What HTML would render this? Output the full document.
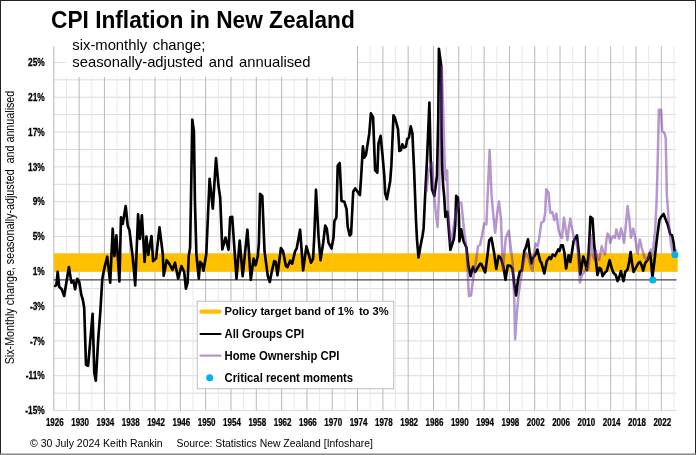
<!DOCTYPE html>
<html><head><meta charset="utf-8"><title>CPI Inflation in New Zealand</title>
<style>
html,body{margin:0;padding:0;background:#fff;}
body{width:696px;height:455px;position:relative;overflow:hidden;font-family:"Liberation Sans",sans-serif;color:#000;}
svg text{white-space:pre;}
</style></head><body>

<svg width="696" height="455" viewBox="0 0 696 455" style="position:absolute;left:0;top:0;will-change:transform" font-family="'Liberation Sans', sans-serif" fill="#000">
<rect x="0" y="0" width="696" height="455" fill="#fff"/>
<line x1="53.5" x2="676.5" y1="410.54" y2="410.54" stroke="#dbdbdb" stroke-width="1"/>
<line x1="53.5" x2="676.5" y1="393.14" y2="393.14" stroke="#dbdbdb" stroke-width="1"/>
<line x1="53.5" x2="676.5" y1="375.73" y2="375.73" stroke="#dbdbdb" stroke-width="1"/>
<line x1="53.5" x2="676.5" y1="358.33" y2="358.33" stroke="#dbdbdb" stroke-width="1"/>
<line x1="53.5" x2="676.5" y1="340.92" y2="340.92" stroke="#dbdbdb" stroke-width="1"/>
<line x1="53.5" x2="676.5" y1="323.51" y2="323.51" stroke="#dbdbdb" stroke-width="1"/>
<line x1="53.5" x2="676.5" y1="306.11" y2="306.11" stroke="#dbdbdb" stroke-width="1"/>
<line x1="53.5" x2="676.5" y1="288.70" y2="288.70" stroke="#dbdbdb" stroke-width="1"/>
<line x1="53.5" x2="676.5" y1="271.30" y2="271.30" stroke="#dbdbdb" stroke-width="1"/>
<line x1="53.5" x2="676.5" y1="253.89" y2="253.89" stroke="#dbdbdb" stroke-width="1"/>
<line x1="53.5" x2="676.5" y1="236.49" y2="236.49" stroke="#dbdbdb" stroke-width="1"/>
<line x1="53.5" x2="676.5" y1="219.08" y2="219.08" stroke="#dbdbdb" stroke-width="1"/>
<line x1="53.5" x2="676.5" y1="201.67" y2="201.67" stroke="#dbdbdb" stroke-width="1"/>
<line x1="53.5" x2="676.5" y1="184.27" y2="184.27" stroke="#dbdbdb" stroke-width="1"/>
<line x1="53.5" x2="676.5" y1="166.86" y2="166.86" stroke="#dbdbdb" stroke-width="1"/>
<line x1="53.5" x2="676.5" y1="149.46" y2="149.46" stroke="#dbdbdb" stroke-width="1"/>
<line x1="53.5" x2="676.5" y1="132.05" y2="132.05" stroke="#dbdbdb" stroke-width="1"/>
<line x1="53.5" x2="676.5" y1="114.64" y2="114.64" stroke="#dbdbdb" stroke-width="1"/>
<line x1="53.5" x2="676.5" y1="97.24" y2="97.24" stroke="#dbdbdb" stroke-width="1"/>
<line x1="53.5" x2="676.5" y1="79.83" y2="79.83" stroke="#dbdbdb" stroke-width="1"/>
<line x1="53.5" x2="676.5" y1="62.43" y2="62.43" stroke="#dbdbdb" stroke-width="1"/>
<line x1="53.80" x2="53.80" y1="46" y2="410.5" stroke="#b8b8b8" stroke-width="1"/>
<line x1="66.46" x2="66.46" y1="46" y2="410.5" stroke="#e9e9e9" stroke-width="1"/>
<line x1="79.11" x2="79.11" y1="46" y2="410.5" stroke="#b8b8b8" stroke-width="1"/>
<line x1="91.77" x2="91.77" y1="46" y2="410.5" stroke="#e9e9e9" stroke-width="1"/>
<line x1="104.42" x2="104.42" y1="46" y2="410.5" stroke="#b8b8b8" stroke-width="1"/>
<line x1="117.08" x2="117.08" y1="46" y2="410.5" stroke="#e9e9e9" stroke-width="1"/>
<line x1="129.74" x2="129.74" y1="46" y2="410.5" stroke="#b8b8b8" stroke-width="1"/>
<line x1="142.39" x2="142.39" y1="46" y2="410.5" stroke="#e9e9e9" stroke-width="1"/>
<line x1="155.05" x2="155.05" y1="46" y2="410.5" stroke="#b8b8b8" stroke-width="1"/>
<line x1="167.70" x2="167.70" y1="46" y2="410.5" stroke="#e9e9e9" stroke-width="1"/>
<line x1="180.36" x2="180.36" y1="46" y2="410.5" stroke="#b8b8b8" stroke-width="1"/>
<line x1="193.02" x2="193.02" y1="46" y2="410.5" stroke="#e9e9e9" stroke-width="1"/>
<line x1="205.67" x2="205.67" y1="46" y2="410.5" stroke="#b8b8b8" stroke-width="1"/>
<line x1="218.33" x2="218.33" y1="46" y2="410.5" stroke="#e9e9e9" stroke-width="1"/>
<line x1="230.98" x2="230.98" y1="46" y2="410.5" stroke="#b8b8b8" stroke-width="1"/>
<line x1="243.64" x2="243.64" y1="46" y2="410.5" stroke="#e9e9e9" stroke-width="1"/>
<line x1="256.30" x2="256.30" y1="46" y2="410.5" stroke="#b8b8b8" stroke-width="1"/>
<line x1="268.95" x2="268.95" y1="46" y2="410.5" stroke="#e9e9e9" stroke-width="1"/>
<line x1="281.61" x2="281.61" y1="46" y2="410.5" stroke="#b8b8b8" stroke-width="1"/>
<line x1="294.26" x2="294.26" y1="46" y2="410.5" stroke="#e9e9e9" stroke-width="1"/>
<line x1="306.92" x2="306.92" y1="46" y2="410.5" stroke="#b8b8b8" stroke-width="1"/>
<line x1="319.58" x2="319.58" y1="46" y2="410.5" stroke="#e9e9e9" stroke-width="1"/>
<line x1="332.23" x2="332.23" y1="46" y2="410.5" stroke="#b8b8b8" stroke-width="1"/>
<line x1="344.89" x2="344.89" y1="46" y2="410.5" stroke="#e9e9e9" stroke-width="1"/>
<line x1="357.54" x2="357.54" y1="46" y2="410.5" stroke="#b8b8b8" stroke-width="1"/>
<line x1="370.20" x2="370.20" y1="46" y2="410.5" stroke="#e9e9e9" stroke-width="1"/>
<line x1="382.86" x2="382.86" y1="46" y2="410.5" stroke="#b8b8b8" stroke-width="1"/>
<line x1="395.51" x2="395.51" y1="46" y2="410.5" stroke="#e9e9e9" stroke-width="1"/>
<line x1="408.17" x2="408.17" y1="46" y2="410.5" stroke="#b8b8b8" stroke-width="1"/>
<line x1="420.82" x2="420.82" y1="46" y2="410.5" stroke="#e9e9e9" stroke-width="1"/>
<line x1="433.48" x2="433.48" y1="46" y2="410.5" stroke="#b8b8b8" stroke-width="1"/>
<line x1="446.14" x2="446.14" y1="46" y2="410.5" stroke="#e9e9e9" stroke-width="1"/>
<line x1="458.79" x2="458.79" y1="46" y2="410.5" stroke="#b8b8b8" stroke-width="1"/>
<line x1="471.45" x2="471.45" y1="46" y2="410.5" stroke="#e9e9e9" stroke-width="1"/>
<line x1="484.10" x2="484.10" y1="46" y2="410.5" stroke="#b8b8b8" stroke-width="1"/>
<line x1="496.76" x2="496.76" y1="46" y2="410.5" stroke="#e9e9e9" stroke-width="1"/>
<line x1="509.42" x2="509.42" y1="46" y2="410.5" stroke="#b8b8b8" stroke-width="1"/>
<line x1="522.07" x2="522.07" y1="46" y2="410.5" stroke="#e9e9e9" stroke-width="1"/>
<line x1="534.73" x2="534.73" y1="46" y2="410.5" stroke="#b8b8b8" stroke-width="1"/>
<line x1="547.38" x2="547.38" y1="46" y2="410.5" stroke="#e9e9e9" stroke-width="1"/>
<line x1="560.04" x2="560.04" y1="46" y2="410.5" stroke="#b8b8b8" stroke-width="1"/>
<line x1="572.70" x2="572.70" y1="46" y2="410.5" stroke="#e9e9e9" stroke-width="1"/>
<line x1="585.35" x2="585.35" y1="46" y2="410.5" stroke="#b8b8b8" stroke-width="1"/>
<line x1="598.01" x2="598.01" y1="46" y2="410.5" stroke="#e9e9e9" stroke-width="1"/>
<line x1="610.66" x2="610.66" y1="46" y2="410.5" stroke="#b8b8b8" stroke-width="1"/>
<line x1="623.32" x2="623.32" y1="46" y2="410.5" stroke="#e9e9e9" stroke-width="1"/>
<line x1="635.98" x2="635.98" y1="46" y2="410.5" stroke="#b8b8b8" stroke-width="1"/>
<line x1="648.63" x2="648.63" y1="46" y2="410.5" stroke="#e9e9e9" stroke-width="1"/>
<line x1="661.29" x2="661.29" y1="46" y2="410.5" stroke="#b8b8b8" stroke-width="1"/>
<line x1="673.94" x2="673.94" y1="46" y2="410.5" stroke="#e9e9e9" stroke-width="1"/>
<rect x="65.5" y="36" width="291.5" height="41" fill="#fff"/>
<rect x="53.9" y="253.4" width="623.8" height="18.4" fill="#FFC000"/>
<line x1="53.5" x2="676.5" y1="279.90" y2="279.90" stroke="#444" stroke-width="1.3"/>
<path d="M55.2,285.9 L56.4,284.8 L57.7,271.7 L59.2,286.8 L61.7,289.3 L64.2,296.0 L68.9,267.0 L71.4,282.6 L73.4,280.9 L75.1,289.3 L77.2,278.8 L79.2,281.8 L81.4,295.1 L82.9,300.0 L84.2,308.0 L86.0,364.8 L88.1,365.8 L92.6,313.8 L94.3,373.0 L95.8,380.7 L98.3,338.0 L100.3,312.0 L102.3,279.0 L104.3,268.4 L107.2,256.7 L110.2,282.6 L112.7,228.7 L114.4,256.1 L116.4,235.4 L119.4,281.5 L121.0,217.3 L122.7,224.0 L125.7,206.0 L127.7,225.7 L129.4,229.9 L132.7,257.4 L133.6,266.5 L135.2,285.4 L138.1,214.3 L139.9,239.0 L141.9,215.3 L144.6,261.8 L146.4,236.5 L148.3,254.9 L151.5,236.0 L153.1,261.1 L156.1,258.2 L159.5,227.3 L162.8,254.1 L163.7,275.8 L166.7,260.2 L169.2,263.6 L172.5,269.8 L175.0,262.7 L178.1,278.6 L181.4,266.1 L184.2,271.9 L185.9,288.6 L187.6,282.8 L188.7,256.1 L190.1,247.7 L191.3,180.0 L192.3,119.7 L193.9,130.9 L194.9,200.0 L196.4,254.4 L198.8,278.6 L200.1,261.9 L201.8,263.6 L203.5,270.8 L206.3,254.0 L208.0,215.0 L209.6,178.8 L212.8,208.6 L216.0,158.1 L218.5,186.0 L220.2,197.7 L222.3,249.5 L225.5,237.6 L228.5,249.8 L230.2,217.4 L232.2,216.9 L236.5,278.6 L239.7,240.5 L242.7,276.1 L247.4,229.7 L250.8,279.8 L253.6,258.6 L255.6,265.3 L257.8,256.1 L258.9,243.0 L260.1,193.9 L262.3,196.0 L264.5,251.0 L267.8,276.1 L269.8,282.0 L271.7,271.9 L274.2,261.1 L275.8,262.0 L277.5,275.3 L280.9,248.0 L283.0,251.0 L285.9,266.1 L287.5,267.0 L290.1,260.7 L292.2,263.6 L295.1,251.1 L296.7,248.5 L300.1,229.7 L303.1,270.3 L306.4,246.4 L311.0,262.7 L313.1,258.6 L314.3,236.0 L316.0,189.7 L318.5,236.0 L320.5,260.2 L323.2,242.7 L325.2,225.5 L326.8,228.5 L328.5,242.7 L331.5,248.5 L333.5,237.7 L334.4,221.0 L336.4,217.6 L337.7,165.8 L339.7,163.0 L341.5,200.9 L344.4,201.8 L346.6,209.3 L347.7,226.8 L349.7,235.5 L351.1,234.0 L353.2,191.7 L355.2,188.4 L359.9,195.1 L361.2,176.0 L362.9,146.4 L364.3,157.6 L365.9,155.1 L369.3,133.4 L370.9,113.4 L373.1,117.5 L375.1,170.2 L377.3,172.7 L378.5,143.4 L380.6,135.9 L382.5,155.0 L384.3,176.0 L385.2,193.4 L386.9,199.2 L390.2,180.9 L391.4,165.0 L393.5,115.4 L395.0,118.0 L398.0,129.2 L399.4,151.0 L400.9,150.2 L402.4,144.3 L404.0,147.6 L405.9,146.8 L407.2,139.3 L408.9,137.6 L410.7,126.4 L412.4,133.4 L414.1,170.0 L416.0,220.0 L417.0,240.0 L418.5,257.5 L420.5,246.0 L422.5,236.0 L423.6,228.5 L425.0,198.0 L427.0,160.0 L429.4,102.5 L430.7,160.0 L432.0,189.2 L434.3,195.9 L437.0,176.0 L438.3,116.0 L438.9,48.8 L441.2,66.0 L441.6,140.0 L442.3,170.0 L443.2,186.0 L444.3,198.0 L445.4,216.8 L447.4,211.8 L450.4,249.8 L453.9,238.5 L455.2,225.0 L456.2,195.9 L457.9,197.6 L458.9,215.0 L459.4,241.4 L461.2,229.3 L463.5,241.0 L466.5,247.7 L468.2,264.4 L470.5,276.1 L473.0,266.9 L475.2,271.9 L477.7,267.7 L480.2,263.6 L481.4,264.2 L485.2,272.4 L487.6,254.5 L489.2,240.3 L491.4,237.8 L494.1,252.7 L496.3,269.0 L498.6,256.0 L501.1,258.5 L503.6,267.7 L505.5,279.8 L507.7,265.5 L510.3,265.7 L512.5,268.5 L514.5,286.1 L516.1,295.5 L518.0,280.0 L519.8,271.7 L521.8,270.5 L524.3,251.1 L526.0,247.0 L528.0,239.4 L529.5,252.0 L531.4,263.5 L532.7,258.6 L534.4,256.0 L536.0,253.6 L537.4,249.5 L540.1,260.9 L541.5,263.0 L544.3,273.5 L546.8,261.0 L549.3,257.2 L551.0,259.0 L552.7,254.5 L555.0,256.0 L558.2,249.5 L559.5,251.0 L561.1,245.3 L562.8,245.3 L564.4,252.8 L566.1,268.5 L568.6,255.3 L570.3,262.0 L572.0,252.0 L573.6,241.1 L577.0,235.3 L578.7,252.0 L580.3,274.5 L583.3,256.5 L585.0,262.0 L586.7,270.2 L588.5,255.0 L589.6,235.0 L590.4,216.9 L592.5,218.5 L594.2,245.0 L597.5,275.0 L599.5,267.8 L601.0,269.0 L602.6,276.1 L605.0,272.5 L606.7,271.1 L609.7,260.2 L611.5,267.5 L613.4,272.7 L615.8,275.0 L617.6,281.1 L619.3,277.0 L620.9,271.1 L623.5,281.1 L625.2,272.0 L627.6,269.4 L629.3,261.0 L630.6,252.0 L632.0,263.0 L633.6,272.0 L636.0,267.5 L638.5,262.8 L640.0,262.0 L641.5,265.0 L643.2,270.7 L645.2,263.0 L647.7,260.0 L649.9,252.8 L651.0,260.0 L652.4,277.8 L654.4,261.0 L657.0,238.0 L659.4,220.2 L661.1,216.9 L663.6,214.0 L665.3,218.5 L667.7,224.4 L670.3,234.4 L672.0,235.2 L673.6,242.8 L674.9,253.6" fill="none" stroke="#000" stroke-width="2.65" stroke-linejoin="round" stroke-linecap="round"/>
<path d="M426.4,192.0 L428.5,172.0 L430.5,166.0 L432.2,162.5 L434.0,193.0 L436.0,215.0 L437.6,227.0 L439.2,190.0 L440.8,110.0 L441.8,66.4 L443.2,110.0 L444.2,150.0 L444.9,170.0 L445.8,180.0 L447.2,170.4 L447.8,198.0 L448.4,213.0 L450.6,243.0 L451.6,240.0 L454.6,220.1 L456.5,211.0 L459.0,202.2 L461.4,203.0 L463.5,225.0 L464.8,236.0 L466.3,246.0 L468.9,296.1 L471.0,295.3 L473.5,276.1 L476.0,261.0 L478.0,246.1 L480.0,245.0 L481.9,236.0 L484.2,223.6 L486.4,224.4 L487.6,196.0 L489.6,150.0 L491.6,196.0 L493.4,216.0 L495.1,232.7 L497.0,215.0 L498.9,201.4 L500.9,218.0 L502.2,252.0 L503.0,270.0 L504.5,252.0 L505.8,237.8 L508.8,230.7 L511.0,249.5 L512.6,262.0 L514.3,300.0 L515.1,339.3 L516.5,318.0 L518.5,295.0 L520.5,280.0 L522.5,268.0 L524.5,258.0 L526.0,252.8 L528.5,258.0 L531.0,267.8 L532.6,270.9 L534.0,255.0 L535.5,243.6 L537.7,246.1 L539.4,236.9 L541.3,223.0 L543.8,221.0 L545.2,212.5 L546.3,189.3 L548.6,192.6 L550.2,213.0 L552.2,211.9 L554.4,220.2 L556.4,213.5 L558.5,230.0 L560.3,235.3 L562.0,238.0 L563.9,217.7 L565.5,228.0 L567.4,240.3 L568.8,228.0 L570.3,218.6 L572.3,230.0 L574.5,241.1 L576.0,240.0 L577.8,251.1 L579.9,282.6 L582.0,275.0 L584.4,271.7 L586.0,268.0 L588.0,270.0 L589.5,258.0 L590.9,235.3 L592.5,254.0 L594.2,259.0 L595.9,250.3 L597.5,258.0 L599.2,260.0 L601.7,246.1 L603.4,252.0 L605.1,254.5 L606.4,240.0 L607.6,233.6 L609.2,236.0 L610.1,242.8 L611.8,238.0 L613.4,236.1 L615.1,238.0 L616.3,229.4 L617.6,233.6 L619.3,238.6 L621.0,228.6 L622.6,234.4 L624.0,242.8 L625.5,229.0 L627.6,206.0 L629.3,219.0 L631.0,237.8 L633.2,228.6 L635.2,238.0 L637.7,253.6 L639.8,239.4 L641.8,248.0 L644.4,257.0 L646.9,260.3 L648.5,258.0 L650.7,249.5 L652.2,255.3 L653.5,246.0 L655.2,229.4 L656.6,201.0 L657.5,170.0 L658.9,109.7 L661.1,109.7 L662.2,131.1 L664.4,133.0 L665.7,138.0 L666.9,196.0 L668.2,213.0 L669.4,229.0 L671.1,244.5 L672.8,252.8 L674.4,252.0 L676.6,249.5" fill="none" stroke="#7030A0" stroke-opacity="0.5" stroke-width="2.5" stroke-linejoin="round" stroke-linecap="butt"/>
<circle cx="652.7" cy="279.9" r="3.5" fill="#00B0F0"/>
<circle cx="674.9" cy="254.8" r="3.5" fill="#00B0F0"/>
<rect x="197.2" y="301.2" width="196.5" height="87.5" fill="#fff" stroke="#bfbfbf" stroke-width="1"/>
<line x1="201.5" x2="219.5" y1="311.7" y2="311.7" stroke="#FFC000" stroke-width="4.2" stroke-linecap="round"/>
<line x1="200.5" x2="220.5" y1="334" y2="334" stroke="#000" stroke-width="2.1" stroke-linecap="round"/>
<line x1="200.5" x2="220.5" y1="355.7" y2="355.7" stroke="#7030A0" stroke-opacity="0.5" stroke-width="2.2" stroke-linecap="round"/>
<circle cx="209.7" cy="377.8" r="3.5" fill="#00B0F0"/>
<g font-size="11.3" font-weight="bold">
<text transform="translate(224.5,315.4) scale(1,1.05)" font-size="11.15" xml:space="preserve">Policy target band of 1%<tspan dx="1.9"> </tspan>to 3%</text>
<text transform="translate(224.5,337.6) scale(1,1.05)">All Groups CPI</text>
<text transform="translate(224.5,359.5) scale(1,1.05)">Home Ownership CPI</text>
<text transform="translate(224.5,381.5) scale(1,1.05)">Critical recent moments</text>
</g>
<text transform="translate(51,28.1) scale(1,1.09)" font-size="22.7" font-weight="bold">CPI Inflation in New Zealand</text>
<g font-size="14.8" word-spacing="1.5">
<text x="72.3" y="49.6">six-monthly change;</text>
<text x="72.3" y="67.0">seasonally-adjusted and annualised</text>
</g>
<g font-size="10.2" font-weight="bold" text-anchor="end" stroke="#000" stroke-width="0.25">
<text transform="translate(44.8,414.24) scale(0.82,1)">-15%</text>
<text transform="translate(44.8,379.43) scale(0.82,1)">-11%</text>
<text transform="translate(44.8,344.62) scale(0.82,1)">-7%</text>
<text transform="translate(44.8,309.81) scale(0.82,1)">-3%</text>
<text transform="translate(44.8,275.00) scale(0.82,1)">1%</text>
<text transform="translate(44.8,240.19) scale(0.82,1)">5%</text>
<text transform="translate(44.8,205.37) scale(0.82,1)">9%</text>
<text transform="translate(44.8,170.56) scale(0.82,1)">13%</text>
<text transform="translate(44.8,135.75) scale(0.82,1)">17%</text>
<text transform="translate(44.8,100.94) scale(0.82,1)">21%</text>
<text transform="translate(44.8,66.13) scale(0.82,1)">25%</text>
</g>
<g font-size="10.3" font-weight="bold" text-anchor="middle" stroke="#000" stroke-width="0.25">
<text transform="translate(54.80,425.7) scale(0.776,1)">1926</text>
<text transform="translate(80.11,425.7) scale(0.776,1)">1930</text>
<text transform="translate(105.42,425.7) scale(0.776,1)">1934</text>
<text transform="translate(130.74,425.7) scale(0.776,1)">1938</text>
<text transform="translate(156.05,425.7) scale(0.776,1)">1942</text>
<text transform="translate(181.36,425.7) scale(0.776,1)">1946</text>
<text transform="translate(206.67,425.7) scale(0.776,1)">1950</text>
<text transform="translate(231.98,425.7) scale(0.776,1)">1954</text>
<text transform="translate(257.30,425.7) scale(0.776,1)">1958</text>
<text transform="translate(282.61,425.7) scale(0.776,1)">1962</text>
<text transform="translate(307.92,425.7) scale(0.776,1)">1966</text>
<text transform="translate(333.23,425.7) scale(0.776,1)">1970</text>
<text transform="translate(358.54,425.7) scale(0.776,1)">1974</text>
<text transform="translate(383.86,425.7) scale(0.776,1)">1978</text>
<text transform="translate(409.17,425.7) scale(0.776,1)">1982</text>
<text transform="translate(434.48,425.7) scale(0.776,1)">1986</text>
<text transform="translate(459.79,425.7) scale(0.776,1)">1990</text>
<text transform="translate(485.10,425.7) scale(0.776,1)">1994</text>
<text transform="translate(510.42,425.7) scale(0.776,1)">1998</text>
<text transform="translate(535.73,425.7) scale(0.776,1)">2002</text>
<text transform="translate(561.04,425.7) scale(0.776,1)">2006</text>
<text transform="translate(586.35,425.7) scale(0.776,1)">2010</text>
<text transform="translate(611.66,425.7) scale(0.776,1)">2014</text>
<text transform="translate(636.98,425.7) scale(0.776,1)">2018</text>
<text transform="translate(662.29,425.7) scale(0.776,1)">2022</text>
</g>
<g font-size="10.6">
<text x="30" y="446.7" font-size="10.5">© 30 July 2024 Keith Rankin</text>
<text x="176.5" y="446.7" font-size="10.4">Source: Statistics New Zealand [Infoshare]</text>
</g>
<text transform="translate(14.1,227.5) rotate(-90) scale(0.826,1)" font-size="13" text-anchor="middle" xml:space="preserve">Six-Monthly change, seasonally-adjusted  and annualised</text>
<rect x="0.5" y="0.5" width="695" height="454" fill="none" stroke="#222" stroke-width="1"/>
<line x1="0" x2="696" y1="454.3" y2="454.3" stroke="#888" stroke-width="1.4"/>
</svg>
</body></html>
